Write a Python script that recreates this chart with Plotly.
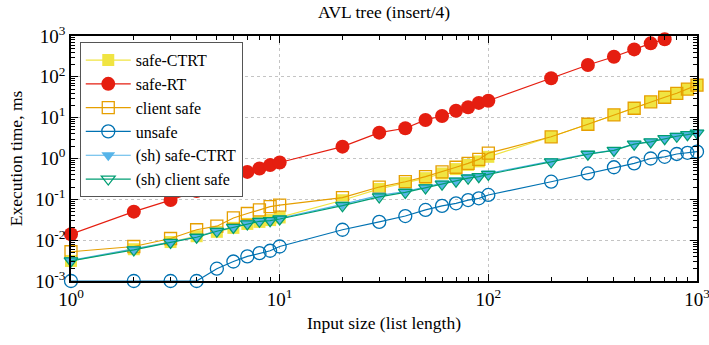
import plotly.graph_objects as go

x_sizes = [1, 2, 3, 4, 5, 6, 7, 8, 9, 10, 20, 30, 40, 50, 60, 70, 80, 90, 100,
           200, 300, 400, 500, 600, 700, 800, 900, 1000]

safe_ctrt = [0.0031, 0.006, 0.009, 0.0125, 0.016, 0.02, 0.025, 0.028, 0.031, 0.036,
             0.095, 0.18, 0.25, 0.33, 0.43, 0.55, 0.7, 0.85, 1.1,
             3.4, 6.9, 11.7, 17, 24.5, 31.6, 39.5, 50, 63]
safe_rt = [0.014, 0.05, 0.096, 0.16, 0.25, 0.35, 0.47, 0.57, 0.69, 0.8,
           1.95, 4.3, 5.5, 8.8, 11, 14.8, 18, 23, 26,
           92, 195, 310, 470, 660, 830]
client_safe = [0.0052, 0.007, 0.011, 0.018, 0.022, 0.035, 0.045, 0.055, 0.066, 0.072,
               0.11, 0.2, 0.27, 0.36, 0.47, 0.61, 0.76, 0.95, 1.35,
               3.4, 6.9, 11.7, 17, 24.5, 31.6, 39.5, 50, 63]
unsafe = [0.001, 0.001, 0.001, 0.001, 0.002, 0.003, 0.004, 0.0048, 0.0055, 0.007,
          0.018, 0.028, 0.039, 0.055, 0.069, 0.08, 0.096, 0.106, 0.128,
          0.27, 0.43, 0.61, 0.76, 1.0, 1.1, 1.29, 1.38, 1.47]
sh_safe_ctrt = [0.0032, 0.006, 0.009, 0.012, 0.017, 0.021, 0.026, 0.03, 0.031, 0.034,
                0.075, 0.125, 0.155, 0.2, 0.245, 0.29, 0.35, 0.37, 0.43,
                0.86, 1.3, 1.6, 2.3, 2.6, 3.1, 3.6, 3.9, 4.3]
sh_client_safe = [0.0031, 0.0058, 0.0088, 0.0118, 0.0165, 0.0205, 0.025, 0.029, 0.03, 0.033,
                  0.07, 0.115, 0.148, 0.19, 0.235, 0.28, 0.33, 0.36, 0.41,
                  0.83, 1.27, 1.58, 2.25, 2.55, 3.05, 3.5, 3.85, 4.2]

tick_vals_x = [1, 10, 100, 1000]
tick_text_x = ["10<sup>0</sup>", "10<sup>1</sup>", "10<sup>2</sup>", "10<sup>3</sup>"]
tick_vals_y = [0.001, 0.01, 0.1, 1, 10, 100, 1000]
tick_text_y = ["10<sup>-3</sup>", "10<sup>-2</sup>", "10<sup>-1</sup>", "10<sup>0</sup>",
               "10<sup>1</sup>", "10<sup>2</sup>", "10<sup>3</sup>"]

FONT = "Liberation Serif"

series = [
    ("safe-CTRT", safe_ctrt, "#f0e442", dict(symbol="square", size=12, color="#f0e442",
                                             line=dict(width=0))),
    ("safe-RT", safe_rt, "#e51e10", dict(symbol="circle", size=14, color="#e51e10",
                                         line=dict(width=0))),
    ("client safe", client_safe, "#e69f00", dict(symbol="square-open", size=12, color="#e69f00",
                                                 line=dict(width=1.3))),
    ("unsafe", unsafe, "#0072b2", dict(symbol="circle-open", size=13, color="#0072b2",
                                       line=dict(width=1.3))),
    ("(sh) safe-CTRT", sh_safe_ctrt, "#56b4e9", dict(symbol="triangle-down", size=12,
                                                      color="#56b4e9", line=dict(width=0))),
    ("(sh) client safe", sh_client_safe, "#009e73", dict(symbol="triangle-down-open", size=12,
                                                          color="#009e73", line=dict(width=1.3))),
]

fig = go.Figure()
for name, ys, col, mk in series:
    fig.add_trace(go.Scatter(
        x=x_sizes[:len(ys)], y=ys, name=name, mode="lines+markers",
        line=dict(color=col, width=1.2), marker=mk, cliponaxis=False))

axis_common = dict(
    type="log", showline=True, linecolor="black", linewidth=1.5, mirror="allticks",
    ticks="inside", ticklen=7, tickcolor="black", tickwidth=1, automargin=False,
    ticklabeloverflow="allow",
    showgrid=True, gridcolor="#c4c4c4", griddash="dot", gridwidth=1,
    zeroline=False, tickfont=dict(family=FONT, size=19, color="black"),
    minor=dict(ticks="inside", ticklen=4, tickcolor="black", dtick="D1", showgrid=False),
)

fig.update_layout(
    width=709, height=345,
    margin=dict(l=71, r=12, t=36, b=64, autoexpand=False),
    paper_bgcolor="white", plot_bgcolor="white",
    font=dict(family=FONT, size=17, color="black"),
    xaxis=dict(axis_common, range=[0, 3], tickvals=tick_vals_x, ticktext=tick_text_x,
               title=dict(text="Input size (list length)", standoff=8,
                          font=dict(family=FONT, size=17.5))),
    yaxis=dict(axis_common, range=[-3, 3], tickvals=tick_vals_y, ticktext=tick_text_y,
               title=dict(text="Execution time, ms", standoff=8,
                          font=dict(family=FONT, size=17.5))),
    legend=dict(x=0.014, y=0.975, xanchor="left", yanchor="top",
                bgcolor="white", bordercolor="#555555", borderwidth=1,
                font=dict(family=FONT, size=16, color="black"),
                tracegroupgap=0, itemwidth=45),
    showlegend=True,
    annotations=[dict(text="AVL tree (insert/4)", xref="paper", yref="paper",
                      x=0.5, y=1.0, yshift=24, xanchor="center", yanchor="middle",
                      showarrow=False, font=dict(family=FONT, size=17.5, color="black"))],
)

fig.write_html("out.html", config={"displayModeBar": False},
               post_script="document.body.style.margin='0';document.body.style.overflow='hidden';")
